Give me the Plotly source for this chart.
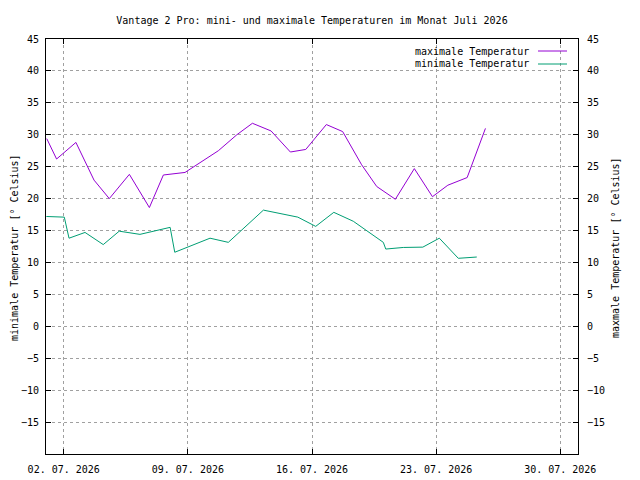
import plotly.graph_objects as go

# ---- data ----
max_times = ["2026-07-01 01:00", "2026-07-01 14:20", "2026-07-02 16:30", "2026-07-03 17:00",
             "2026-07-04 13:40", "2026-07-05 16:50", "2026-07-06 19:55", "2026-07-07 14:50",
             "2026-07-08 20:10", "2026-07-10 17:15", "2026-07-11 18:15", "2026-07-12 15:20",
             "2026-07-13 16:35", "2026-07-14 18:45", "2026-07-15 15:35", "2026-07-16 19:25",
             "2026-07-17 17:30", "2026-07-18 19:10", "2026-07-19 15:35", "2026-07-20 16:50",
             "2026-07-21 18:30", "2026-07-22 19:00", "2026-07-23 15:50", "2026-07-24 18:00",
             "2026-07-25 18:45"]
max_temps = [29.4, 26.2, 28.8, 22.9, 20.0, 23.8, 18.6, 23.7, 24.1, 27.5, 30.0, 31.8,
             30.6, 27.3, 27.7, 31.6, 30.5, 25.3, 21.9, 19.9, 24.7, 20.3, 22.1, 23.3, 31.0]

min_times = ["2026-07-01 00:30", "2026-07-02 00:45", "2026-07-02 07:10", "2026-07-03 04:50",
             "2026-07-04 05:30", "2026-07-05 03:05", "2026-07-06 07:10", "2026-07-08 00:00",
             "2026-07-08 06:15", "2026-07-10 06:00", "2026-07-11 06:45", "2026-07-13 06:15",
             "2026-07-15 04:50", "2026-07-16 05:00", "2026-07-17 05:30", "2026-07-18 07:55",
             "2026-07-20 00:30", "2026-07-20 03:50", "2026-07-21 03:35", "2026-07-22 06:00",
             "2026-07-23 04:20", "2026-07-24 06:00", "2026-07-25 07:00"]
min_temps = [17.2, 17.1, 13.8, 14.7, 12.8, 14.9, 14.4, 15.5, 11.6, 13.8, 13.15, 18.2,
             17.1, 15.65, 17.85, 16.45, 13.15, 12.1, 12.35, 12.4, 13.8, 10.65, 10.85]

x_tick_dates = ["2026-07-02", "2026-07-09", "2026-07-16", "2026-07-23", "2026-07-30"]
y_ticks = [-15, -10, -5, 0, 5, 10, 15, 20, 25, 30, 35, 40, 45]

title_text = "Vantage 2 Pro: mini- und maximale Temperaturen im Monat Juli 2026"
series_names = ["maximale Temperatur", "minimale Temperatur"]
colors = ["#9400d3", "#009e73"]

FONT = "DejaVu Sans Mono"
W, H = 640, 480
L, R, T, B = 46, 578, 39, 454
yrange = [-20, 45]

fig = go.Figure()
fig.add_trace(go.Scatter(x=max_times, y=max_temps, mode="lines", name=series_names[0],
                         line=dict(color=colors[0], width=1), showlegend=False))
fig.add_trace(go.Scatter(x=min_times, y=min_temps, mode="lines", name=series_names[1],
                         line=dict(color=colors[1], width=1), showlegend=False))

fig.update_layout(
    width=W, height=H,
    margin=dict(l=L, r=W - R, t=T, b=H - B, pad=0),
    paper_bgcolor="white", plot_bgcolor="white",
    font=dict(family=FONT, size=10, color="black"),
    title=dict(text=title_text, x=(L + R) / 2 / W, xanchor="center",
               y=1 - 20 / H, yanchor="middle", font=dict(family=FONT, size=10)),
    xaxis=dict(range=["2026-07-01", "2026-07-31"], tickvals=x_tick_dates,
               tickformat="%d. %m. %Y", ticks="inside", ticklen=5, tickcolor="black",
               showline=True, linecolor="black", linewidth=1, mirror="ticks",
               showgrid=True, gridcolor="#a0a0a0", griddash="3px,3px", gridwidth=1,
               zeroline=False, ticklabelstandoff=6, automargin=False),
    yaxis=dict(range=yrange, tickvals=y_ticks, ticks="inside", ticklen=5,
               tickcolor="black", showline=True, linecolor="black", linewidth=1,
               mirror="ticks", showgrid=True, gridcolor="#a0a0a0", griddash="3px,3px",
               gridwidth=1, zeroline=False, ticklabelstandoff=4, automargin=False),
    yaxis2=dict(range=yrange, tickvals=y_ticks, overlaying="y", side="right",
                ticks="", showline=False, showgrid=False, zeroline=False,
                ticklabelstandoff=8, automargin=False),
)

# dummy invisible trace so y2 axis renders
fig.add_trace(go.Scatter(x=[max_times[0]], y=[0], yaxis="y2", mode="markers",
                         marker=dict(opacity=0), showlegend=False, hoverinfo="skip"))

# axis titles
fig.add_annotation(text="minimale Temperatur [° Celsius]", xref="paper", yref="paper",
                   x=(14 - L) / (R - L), y=(B - 248) / (B - T), textangle=-90,
                   showarrow=False, xanchor="center", yanchor="middle",
                   font=dict(family=FONT, size=10))
fig.add_annotation(text="maxmale Temperatur [° Celsius]", xref="paper", yref="paper",
                   x=(615 - L) / (R - L), y=(B - 248) / (B - T), textangle=-90,
                   showarrow=False, xanchor="center", yanchor="middle",
                   font=dict(family=FONT, size=10))

# gnuplot-style key (text right, sample line)
for i, (name, col) in enumerate(zip(series_names, colors)):
    ypix = 51 + i * 13
    yp = (B - ypix) / (B - T)
    fig.add_annotation(text=name, xref="paper", yref="paper",
                       x=(531 - L) / (R - L), y=yp, xanchor="right", yanchor="middle",
                       showarrow=False, font=dict(family=FONT, size=10))
    fig.add_shape(type="line", xref="paper", yref="paper",
                  x0=(538 - L) / (R - L), x1=(567 - L) / (R - L), y0=yp, y1=yp,
                  line=dict(color=col, width=1))

fig.write_html("out.html")
